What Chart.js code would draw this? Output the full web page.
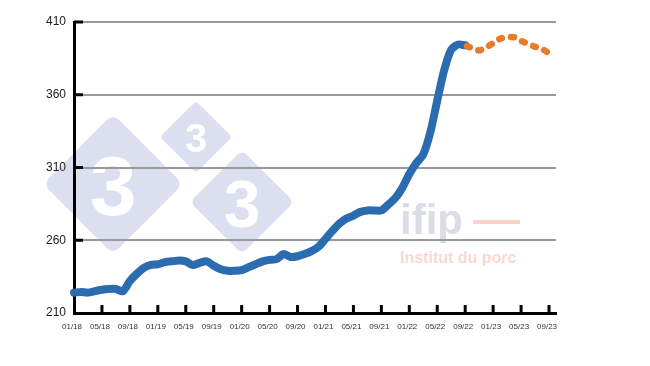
<!DOCTYPE html>
<html>
<head>
<meta charset="utf-8">
<script src="https://cdn.jsdelivr.net/npm/chart.js@4.4.0/dist/chart.umd.min.js"></script>
<style>
  html, body { margin: 0; padding: 0; background: #fff; }
</style>
</head>
<body>
<canvas id="priceChart" width="650" height="366"></canvas>
<script>
// Monthly categories, 01/18 .. 10/23
var months = [
    '01/18', '02/18', '03/18', '04/18', '05/18', '06/18', '07/18', '08/18', '09/18', '10/18', '11/18', '12/18',
    '01/19', '02/19', '03/19', '04/19', '05/19', '06/19', '07/19', '08/19', '09/19', '10/19', '11/19', '12/19',
    '01/20', '02/20', '03/20', '04/20', '05/20', '06/20', '07/20', '08/20', '09/20', '10/20', '11/20', '12/20',
    '01/21', '02/21', '03/21', '04/21', '05/21', '06/21', '07/21', '08/21', '09/21', '10/21', '11/21', '12/21',
    '01/22', '02/22', '03/22', '04/22', '05/22', '06/22', '07/22', '08/22', '09/22', '10/22', '11/22', '12/22',
    '01/23', '02/23', '03/23', '04/23', '05/23', '06/23', '07/23', '08/23', '09/23', '10/23'
];

// Observed values, from 01/18
var observed = [
    224, 224.5, 224, 225, 226, 226.5, 226.5, 225, 232, 237, 241, 243,
    243.5, 245, 245.5, 246, 245.5, 243, 244.5, 245.5, 242.5, 240, 239, 239,
    239.5, 241.5, 243.5, 245.5, 246.5, 247, 250.5, 248.5, 249, 250.5, 252.5, 255.5,
    261, 266.5, 271.5, 275, 277, 279.5, 280.5, 280.5, 280.5, 284.5, 289, 296,
    305.5, 313, 319, 334, 356, 377, 391, 394.5, 394
];

// Forecast values, from 09/22
var forecastStart = '09/22';
var forecast = [394, 392, 390.5, 392.5, 395.5, 398.5, 399.5, 399.5, 397, 395, 393, 391.5, 388.5];

var yTicks = [210, 260, 310, 360, 410];

// ---------- build series on the month axis ----------
var fcIndex = months.indexOf(forecastStart);
var observedData = months.map(function (m, i) { return i < observed.length ? observed[i] : null; });
var forecastData = months.map(function (m, i) {
    var k = i - fcIndex;
    return (k >= 0 && k < forecast.length) ? forecast[k] : null;
});

// Watermarks (333 logo + ifip) behind the grid
var watermark = {
    id: 'watermark',
    beforeDraw: function (chart) {
        var c = chart.ctx;
        c.save();
        c.fillStyle = '#fff';
        c.fillRect(0, 0, chart.width, chart.height);

        function diamond(cx, cy, h, size) {
            var s = h * Math.SQRT2;
            c.save();
            c.translate(cx, cy);
            c.rotate(Math.PI / 4);
            c.fillStyle = '#dcdfef';
            c.beginPath();
            c.roundRect(-s / 2, -s / 2, s, s, s * 0.08);
            c.fill();
            c.restore();
            c.fillStyle = '#fff';
            c.font = 'bold ' + size + 'px "Liberation Sans", Arial, sans-serif';
            c.textAlign = 'center';
            c.textBaseline = 'alphabetic';
            c.fillText('3', cx, cy + 1 + size * 0.358);
        }
        diamond(113, 184, 70, 84);
        diamond(196, 137, 36, 40);
        diamond(242, 202, 52, 66);

        c.textAlign = 'left';
        c.fillStyle = '#dadce8';
        c.font = 'bold 42px "Liberation Sans", Arial, sans-serif';
        c.fillText('ifip', 400, 234);
        c.fillStyle = '#f7d4ca';
        c.fillRect(473, 220, 47, 4);
        c.fillStyle = '#f9d8cf';
        c.font = 'bold 16px "Liberation Sans", Arial, sans-serif';
        c.fillText('Institut du porc', 400, 263);
        c.restore();
    }
};

// Short black tick marks pointing into the plot
var innerTicks = {
    id: 'innerTicks',
    afterDraw: function (chart) {
        var c = chart.ctx, xs = chart.scales.x, ys = chart.scales.y, a = chart.chartArea;
        c.save();
        c.strokeStyle = '#000';
        c.lineWidth = 3;
        c.beginPath();
        for (var i = 4; i < months.length; i += 4) {
            var px = xs.getPixelForValue(i);
            c.moveTo(px, a.bottom);
            c.lineTo(px, a.bottom - 8);
        }
        yTicks.forEach(function (v) {
            if (v === yTicks[0]) return;
            var py = ys.getPixelForValue(v);
            c.moveTo(a.left, py);
            c.lineTo(a.left + 9, py);
        });
        c.stroke();
        c.restore();
    }
};

new Chart(document.getElementById('priceChart').getContext('2d'), {
    type: 'line',
    data: {
        labels: months,
        datasets: [{
            data: observedData,
            order: 1,
            borderColor: '#2B6CB0',
            borderWidth: 8,
            borderCapStyle: 'round',
            borderJoinStyle: 'round',
            pointRadius: 0,
            tension: 0.25
        }, {
            data: forecastData,
            order: 0,
            borderColor: '#E67B2C',
            borderWidth: 6.5,
            borderDash: [3, 9],
            borderDashOffset: -2,
            borderCapStyle: 'round',
            pointRadius: 0,
            tension: 0.3
        }]
    },
    options: {
        responsive: false,
        animation: false,
        devicePixelRatio: 1,
        layout: { padding: { top: 22, right: 94, bottom: 0, left: 0 } },
        plugins: { legend: { display: false }, tooltip: { enabled: false } },
        scales: {
            x: {
                grid: { display: false, drawTicks: false },
                border: { display: true, color: '#000', width: 3 },
                ticks: {
                    autoSkip: false,
                    maxRotation: 0,
                    padding: 9,
                    labelOffset: -2,
                    color: '#333',
                    font: { size: 8, family: '"Liberation Sans", Arial, sans-serif' },
                    callback: function (v, i) { return i % 4 === 0 ? months[i] : ''; }
                },
                afterFit: function (s) { s.height = 53; }
            },
            y: {
                min: yTicks[0],
                max: yTicks[yTicks.length - 1],
                afterBuildTicks: function (s) { s.ticks = yTicks.map(function (v) { return { value: v }; }); },
                grid: { color: '#999', lineWidth: 2, drawTicks: false },
                border: { display: true, color: '#000', width: 3 },
                ticks: {
                    padding: 8,
                    color: '#222',
                    font: { size: 12, family: '"Liberation Sans", Arial, sans-serif' }
                },
                afterFit: function (s) { s.width = 74; }
            }
        }
    },
    plugins: [watermark, innerTicks]
});
</script>
</body>
</html>
